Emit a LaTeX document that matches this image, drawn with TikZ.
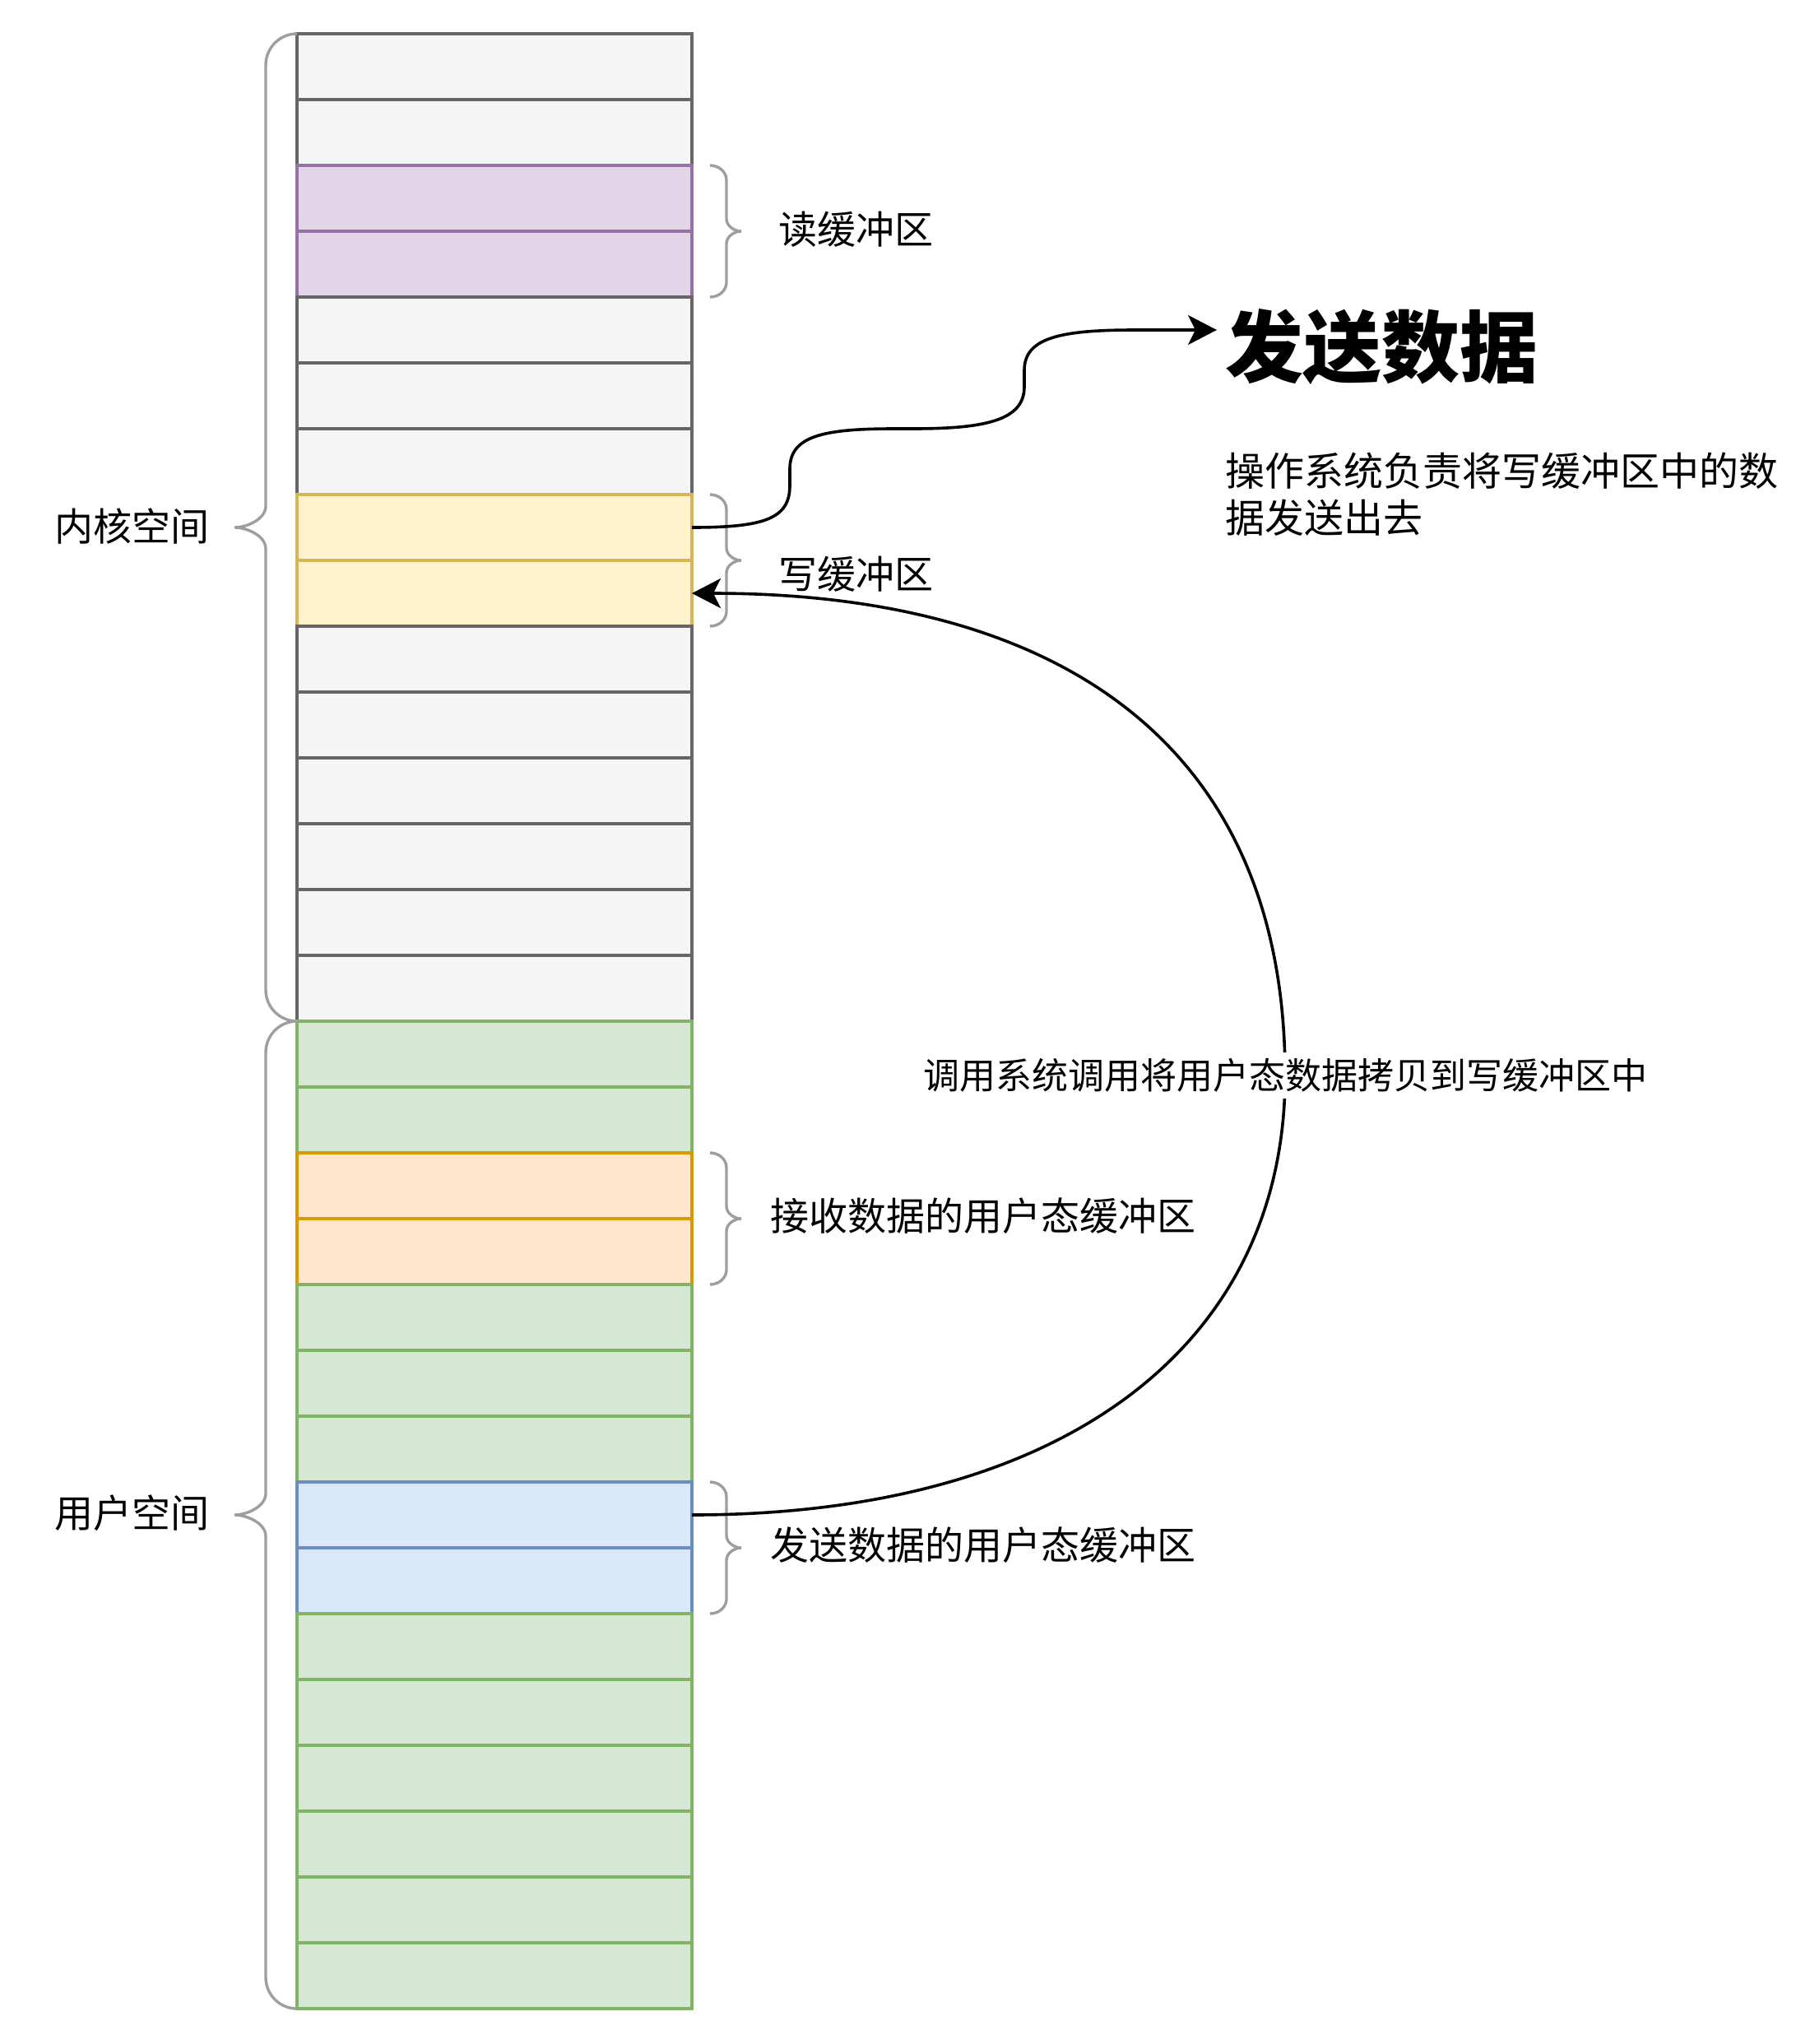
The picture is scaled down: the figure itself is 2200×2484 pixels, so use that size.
\documentclass[tikz,border=0pt]{standalone}
\usepackage{fontspec}
\setmainfont{Noto Sans CJK SC}
\usetikzlibrary{arrows.meta}
\definecolor{grayfill}{HTML}{F5F5F5}
\definecolor{grayline}{HTML}{666666}
\definecolor{purplefill}{HTML}{E1D5E7}
\definecolor{purpleline}{HTML}{9673A6}
\definecolor{yellowfill}{HTML}{FFF2CC}
\definecolor{yellowline}{HTML}{D6B656}
\definecolor{greenfill}{HTML}{D5E8D4}
\definecolor{greenline}{HTML}{82B366}
\definecolor{orangefill}{HTML}{FFE6CC}
\definecolor{orangeline}{HTML}{D79B00}
\definecolor{bluefill}{HTML}{DAE8FC}
\definecolor{blueline}{HTML}{6C8EBF}
\definecolor{bracegray}{HTML}{9E9E9E}

\tikzset{
  cell/.style={draw=#1line, fill=#1fill, line width=1.9pt,
    minimum width=240pt, minimum height=40pt, inner sep=0pt, outer sep=0pt},
  brace/.style={draw=bracegray, line width=1.7pt},
  lbl/.style={inner sep=0pt, anchor=west, font=\fontsize{23.5}{28}\selectfont},
  flow/.style={line width=1.8pt, -{Stealth[length=17.5pt, width=18pt, inset=4.5pt]}}
}

\begin{document}
\begin{tikzpicture}[x=0.5pt, y=-0.5pt]
  \useasboundingbox (0,0) rectangle (2200,2484);

  % memory column, one node per row, top to bottom
  \foreach \i/\c in {1/gray,2/gray,3/purple,4/purple,5/gray,6/gray,7/gray,
      8/yellow,9/yellow,10/gray,11/gray,12/gray,13/gray,14/gray,15/gray,
      16/green,17/green,18/orange,19/orange,20/green,21/green,22/green,
      23/blue,24/blue,25/green,26/green,27/green,28/green,29/green,30/green}
    \node[cell=\c] (r\i) at (601,{1+80*\i}) {};

  % left braces: kernel space and user space
  \foreach \ya/\ym/\yb in {41/641/1241, 1241/1841/2441}
    \draw[brace] (361,\ya) .. controls (340,\ya) and (323,{\ya+17}) .. (323,{\ya+38})
      -- (323,{\ym-26}) .. controls (323,{\ym-10}) and (300,\ym) .. (285,\ym)
      .. controls (300,\ym) and (323,{\ym+10}) .. (323,{\ym+26})
      -- (323,{\yb-38}) .. controls (323,{\yb-17}) and (340,\yb) .. (361,\yb);

  % right braces for the four buffers
  \foreach \ya/\ym/\yb in {201/281/361, 601/681/761, 1401/1481/1561, 1801/1881/1961}
    \draw[brace] (863,\ya) .. controls (874,\ya) and (883,{\ya+8}) .. (883,{\ya+18})
      -- (883,{\ym-15}) .. controls (883,{\ym-6}) and (893,\ym) .. (901,\ym)
      .. controls (893,\ym) and (883,{\ym+6}) .. (883,{\ym+15})
      -- (883,{\yb-18}) .. controls (883,{\yb-8}) and (874,\yb) .. (863,\yb);

  % labels
  \node[lbl] (kernel) at (66,640) {内核空间};
  \node[lbl] (user) at (66,1839) {用户空间};
  \node[lbl] (readbuf) at (946,279) {读缓冲区};
  \node[lbl] (writebuf) at (946,698) {写缓冲区};
  \node[lbl] (recvbuf) at (936,1478) {接收数据的用户态缓冲区};
  \node[lbl] (sendbuf) at (936,1878) {发送数据的用户态缓冲区};
  \node[lbl, font=\bfseries\fontsize{47.5}{56}\selectfont] (title) at (1489,421) {发送数据};
  \node[lbl, align=left, font=\fontsize{24}{28.5}\selectfont] (desc) at (1489,601)
    {操作系统负责将写缓冲区中的数\\据发送出去};

  % write buffer -> send out
  \coordinate (sendtip) at ([shift={(-10,-20)}]title.west);
  \draw[flow] (r8.east) .. controls (930,641) and (960,630) .. (960,590)
    -- (960,570) .. controls (960,530) and (1000,521) .. (1087,521)
    -- (1110,521) .. controls (1200,521) and (1245,510) .. (1245,470)
    -- (1245,450) .. controls (1245,410) and (1290,401) .. (1380,401)
    -- (sendtip);

  % user send buffer -> write buffer
  \coordinate (turn) at (1562,1307);
  \draw[flow] (r23.east) .. controls +(450,0) and +(0,330) .. (turn)
    .. controls +(0,-400) and +(450,0) .. (r9.east);
  \node[fill=white, inner xsep=2pt, inner ysep=4pt, font=\fontsize{22}{26}\selectfont]
    (call) at (turn) {调用系统调用将用户态数据拷贝到写缓冲区中};
\end{tikzpicture}
\end{document}
